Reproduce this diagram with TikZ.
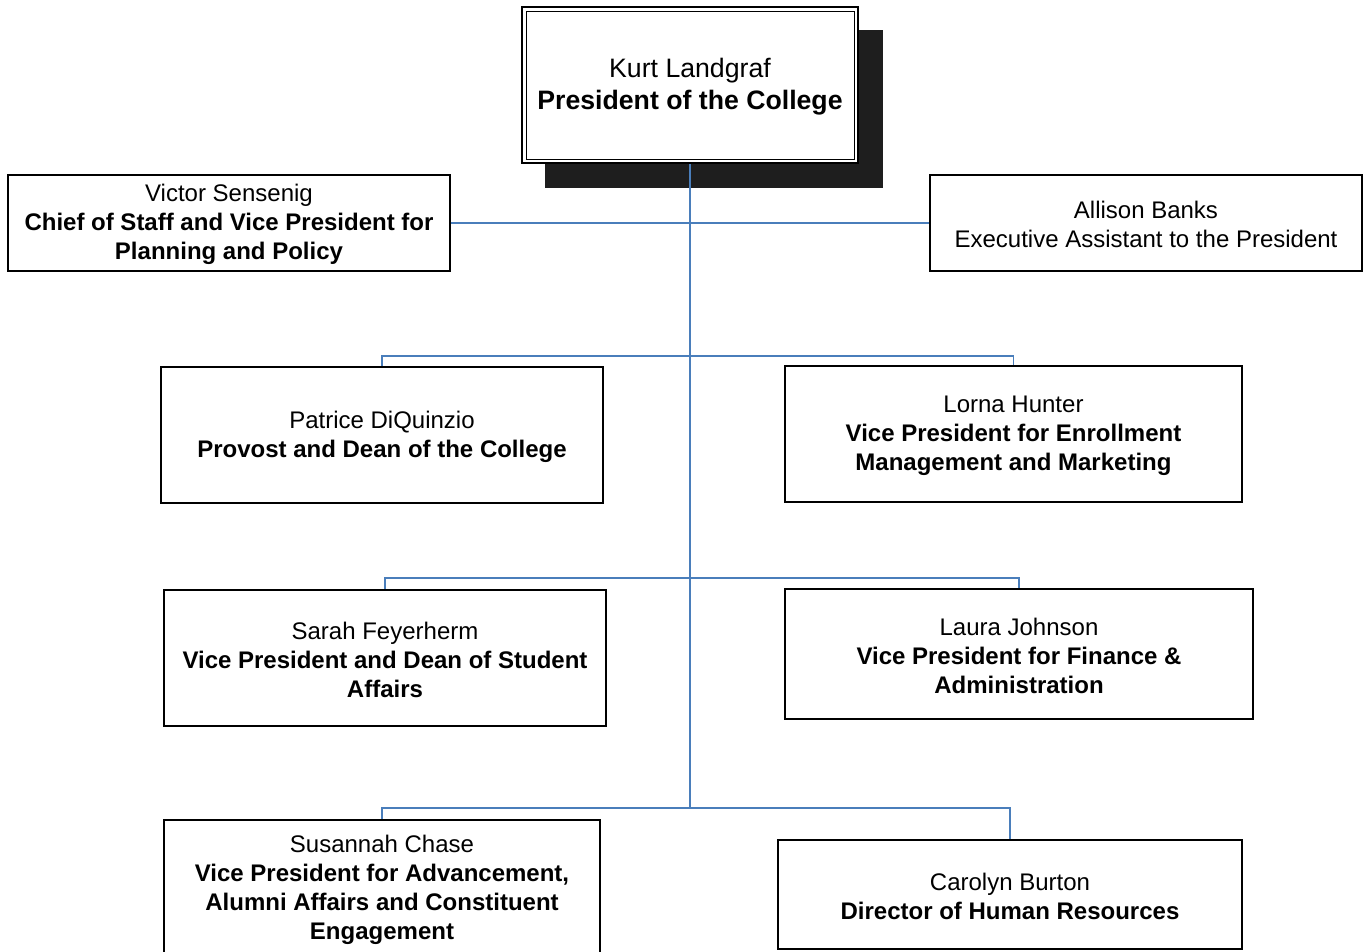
\documentclass[tikz,border=0pt]{standalone}
\usepackage{fontspec}
\setmainfont{Liberation Sans}
\definecolor{conn}{RGB}{74,126,187}
\definecolor{shadowc}{RGB}{30,30,30}
\newcommand\topstrut{\rule{0pt}{15.5pt}}
\begin{document}
\begin{tikzpicture}[x=0.75pt,y=-0.75pt,
  every node/.style={align=center,inner sep=0pt,font=\fontsize{18}{21.75}\selectfont},
  thinbox/.style={draw,line width=0.975pt,fill=white},
  thickbox/.style={draw,line width=1.725pt,fill=white},
  topbox/.style={draw,line width=1.5pt,fill=white,font=\fontsize{20}{24}\selectfont},
  link/.style={draw=conn,line width=1.125pt}]
\useasboundingbox (0,0) rectangle (1364,951);
% shadow of top box
\fill[shadowc] (545,30) rectangle (883,188);
\node[topbox,minimum width=252pt,minimum height=117pt] (pres) at (690,85) {\rule{0pt}{17pt}Kurt Landgraf\\\textbf{President of the College}};
\draw[line width=0.75pt] ([shift={(5,-5)}]pres.south west) rectangle ([shift={(-5,5)}]pres.north east);
% bus coordinates
\coordinate (b1) at (pres.south |- 0,356);
\coordinate (b2) at (pres.south |- 0,578);
\coordinate (b3) at (pres.south |- 0,808);
\node[thinbox,minimum width=331.5pt,minimum height=72pt] (victor) at (229,223) {\topstrut Victor Sensenig\\\textbf{Chief of Staff and Vice President for}\\\textbf{Planning and Policy}};
\node[thinbox,minimum width=324pt,minimum height=72pt] (allison) at (1146,223) {\topstrut Allison Banks\\Executive Assistant to the President};
\node[thickbox,minimum width=331.5pt,minimum height=102pt] (patrice) at (382,435) {\topstrut Patrice DiQuinzio\\\textbf{Provost and Dean of the College}};
\node[thickbox,minimum width=342.75pt,minimum height=102pt] (lorna) at (1013.5,434) {\topstrut Lorna Hunter\\\textbf{Vice President for Enrollment}\\\textbf{Management and Marketing}};
\node[thickbox,minimum width=331.5pt,minimum height=102pt] (sarah) at (385,658) {\topstrut Sarah Feyerherm\\\textbf{Vice President and Dean of Student}\\\textbf{Affairs}};
\node[thickbox,minimum width=351pt,minimum height=97.5pt] (laura) at (1019,654) {\topstrut Laura Johnson\\\textbf{Vice President for Finance \&}\\\textbf{Administration}};
\node[thickbox,minimum width=327pt,minimum height=102pt] (susan) at (382,888) {\topstrut Susannah Chase\\\textbf{Vice President for Advancement,}\\\textbf{Alumni Affairs and Constituent}\\\textbf{Engagement}};
\node[thickbox,minimum width=348pt,minimum height=81.75pt] (carolyn) at (1010,894.5) {\topstrut Carolyn Burton\\\textbf{Director of Human Resources}};
% links
\draw[link] (pres.south) -- (b3);
\draw[link] (victor.east) -- (allison.west);
\draw[link] (patrice.north) -- (patrice.north |- b1) -- (lorna.north |- b1) -- (lorna.north);
\draw[link] (sarah.north) -- (sarah.north |- b2) -- (laura.north |- b2) -- (laura.north);
\draw[link] (susan.north) -- (susan.north |- b3) -- (carolyn.north |- b3) -- (carolyn.north);
\end{tikzpicture}
\end{document}
